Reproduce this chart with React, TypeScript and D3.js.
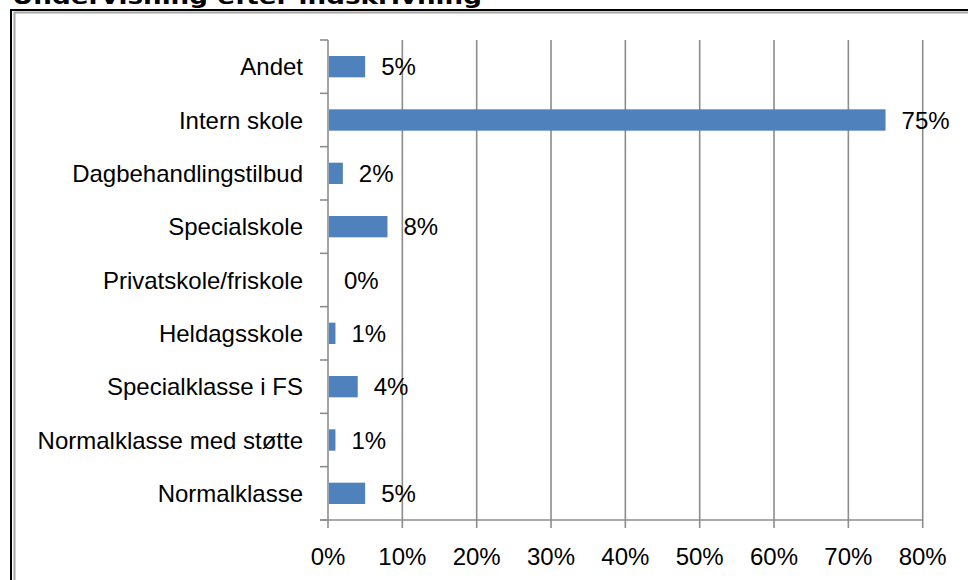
import React from "react";
import * as d3 from "d3";

const categories = [
  "Andet",
  "Intern skole",
  "Dagbehandlingstilbud",
  "Specialskole",
  "Privatskole/friskole",
  "Heldagsskole",
  "Specialklasse i FS",
  "Normalklasse med støtte",
  "Normalklasse",
];
const values = [5, 75, 2, 8, 0, 1, 4, 1, 5];
const xTicks = [0, 10, 20, 30, 40, 50, 60, 70, 80];
const title = "Undervisning efter indskrivning";

const W = 968;
const H = 580;
const left = 328;
const right = 922.7;
const top = 40;
const bottom = 520;
const FONT = "'Liberation Sans', Arial, sans-serif";

export default function App() {
  const x = d3.scaleLinear().domain([0, 80]).range([left, right]);
  const y = d3.scaleBand<string>().domain(categories).range([top, bottom]).paddingInner(0.6).paddingOuter(0.3);
  const yb = d3.scaleBand<string>().domain(categories).range([top, bottom]);
  const bounds = [...categories.map((c) => yb(c) as number), bottom];

  return (
    <svg
      width={W}
      height={H}
      style={{ position: "absolute", left: 0, top: 0, background: "#fff" }}
    >
      <rect x={0} y={0} width={W} height={H} fill="#fff" />
      {/* frame */}
      <rect x={11} y={10} width={2000} height={2000} fill="none" stroke="#000" strokeWidth={2} />
      <rect x={14.5} y={12.5} width={2000} height={2000} fill="none" stroke="#a6a6a6" strokeWidth={2} />
      {/* title */}
      <text
        x={12}
        y={4}
        fontFamily="'DejaVu Sans', Verdana, sans-serif"
        fontWeight="bold"
        fontSize={22}
        textLength={470}
        lengthAdjust="spacingAndGlyphs"
        fill="#000"
      >
        {title}
      </text>
      {/* gridlines */}
      {xTicks.map((t) => (
        <line key={"g" + t} x1={x(t)} x2={x(t)} y1={top} y2={bottom + 8} stroke="#8c8c8c" strokeWidth={1.6} />
      ))}
      {/* x axis */}
      <line x1={left - 8} x2={right} y1={bottom} y2={bottom} stroke="#8c8c8c" strokeWidth={1.6} />
      {xTicks.map((t) => (
        <text
          key={"t" + t}
          x={x(t)}
          y={556}
          textAnchor="middle"
          dominantBaseline="central"
          fontFamily={FONT}
          fontSize={24}
          fill="#000"
        >
          {t + "%"}
        </text>
      ))}
      {/* y axis ticks */}
      {bounds.map((b, i) => (
        <line key={"yt" + i} x1={left - 8} x2={left} y1={b} y2={b} stroke="#8c8c8c" strokeWidth={1.6} />
      ))}
      {/* bars */}
      {categories.map((c, i) => (
        <rect
          key={"b" + c}
          x={x(0) + 1}
          y={y(c)}
          width={Math.max(0, x(values[i]) - x(0) - 1)}
          height={y.bandwidth()}
          fill="#4f81bd"
        />
      ))}
      {/* category labels */}
      {categories.map((c) => (
        <text
          key={"c" + c}
          x={303}
          y={(yb(c) as number) + yb.bandwidth() / 2}
          textAnchor="end"
          dominantBaseline="central"
          fontFamily={FONT}
          fontSize={24}
          fill="#000"
        >
          {c}
        </text>
      ))}
      {/* value labels */}
      {categories.map((c, i) => (
        <text
          key={"v" + c}
          x={x(values[i]) + 16}
          y={(yb(c) as number) + yb.bandwidth() / 2}
          textAnchor="start"
          dominantBaseline="central"
          fontFamily={FONT}
          fontSize={24}
          fill="#000"
        >
          {values[i] + "%"}
        </text>
      ))}
    </svg>
  );
}
